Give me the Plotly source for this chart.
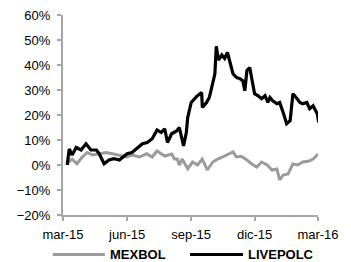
import plotly.graph_objects as go

# LIVEPOLC (black) cumulative return, %
live_dates = ["2015-03-07","2015-03-10","2015-03-14","2015-03-20","2015-03-27","2015-04-03","2015-04-10","2015-04-18",
 "2015-04-22","2015-04-29","2015-05-06","2015-05-13","2015-05-21","2015-05-25","2015-06-01","2015-06-08","2015-06-16",
 "2015-06-23","2015-06-30","2015-07-07","2015-07-14","2015-07-20","2015-07-25","2015-07-29","2015-08-04","2015-08-11",
 "2015-08-15","2015-08-21","2015-08-25","2015-08-27","2015-09-01","2015-09-06","2015-09-10","2015-09-16","2015-09-17",
 "2015-09-23","2015-09-27","2015-09-30","2015-10-05","2015-10-07","2015-10-10","2015-10-15","2015-10-19","2015-10-23",
 "2015-10-26","2015-10-31","2015-11-05","2015-11-10","2015-11-14","2015-11-17","2015-11-20","2015-11-24","2015-11-27",
 "2015-12-01","2015-12-06","2015-12-11","2015-12-16","2015-12-20","2015-12-23","2015-12-27","2016-01-02","2016-01-06",
 "2016-01-11","2016-01-16","2016-01-21","2016-01-25","2016-01-31","2016-02-04","2016-02-08","2016-02-14","2016-02-18",
 "2016-02-23","2016-02-29","2016-03-02"]
live_vals = [0, 6.4, 4, 7, 6, 8.5, 6, 6,
 4.5, 0.5, 2, 2.5, 2, 3, 4.5, 5, 7,
 8.5, 9, 10.5, 14, 13, 14.5, 9, 12.5, 13.6,
 15, 7.6, 13, 19, 25, 26.5, 27.7, 29, 23,
 25, 27, 30.5, 36.5, 47.5, 42, 44, 42.6, 45,
 41.8, 36.5, 35, 34.5, 33.7, 29.7, 37.8, 39, 34.5,
 28.5, 27.7, 26.5, 27.7, 25, 27, 25.7, 24.5, 25,
 21, 16.5, 17.7, 28.5, 26.5, 25, 24.5, 25, 22.5,
 23.7, 20.5, 17]

# MEXBOL (gray) cumulative return, %
mex_dates = ["2015-03-07","2015-03-14","2015-03-21","2015-03-28","2015-04-05","2015-04-12","2015-04-22","2015-05-02",
 "2015-05-11","2015-05-21","2015-05-31","2015-06-08","2015-06-19","2015-06-29","2015-07-07","2015-07-14","2015-07-25",
 "2015-08-04","2015-08-08","2015-08-12","2015-08-15","2015-08-19","2015-08-27","2015-09-03","2015-09-10","2015-09-17",
 "2015-09-24","2015-10-02","2015-10-09","2015-10-16","2015-10-23","2015-10-31","2015-11-05","2015-11-12","2015-11-20",
 "2015-11-27","2015-12-04","2015-12-11","2015-12-19","2015-12-26","2016-01-02","2016-01-06","2016-01-11","2016-01-18",
 "2016-01-25","2016-02-01","2016-02-08","2016-02-16","2016-02-23","2016-03-01"]
mex_vals = [0.5, 2.4, 0.5, 3, 5, 4, 4.5, 5,
 4.5, 4, 3.2, 4, 3.2, 4.5, 3.2, 5.6, 3.6,
 4.4, 2.4, 2.4, 0, 2.4, -1.5, 1.2, 0, 2.4,
 -2, 1.2, 2.4, 3.2, 4, 5.2, 3.2, 3.5, 2,
 0.4, -0.8, 1.2, 0, -2, -1.6, -6, -4, -3.6,
 0.4, 0, 1.2, 1.5, 2.4, 4.4]

tick_vals = ["2015-03-01", "2015-06-01", "2015-09-01", "2015-12-01", "2016-03-01"]
tick_text = ["mar-15", "jun-15", "sep-15", "dic-15", "mar-16"]

series_names = ["MEXBOL", "LIVEPOLC"]
series_colors = ["#9b9b9b", "#000000"]

FONT = "Liberation Sans, Arial, sans-serif"

fig = go.Figure()
fig.add_trace(go.Scatter(x=mex_dates, y=[v / 100 for v in mex_vals], mode="lines", name=series_names[0],
                         line=dict(color=series_colors[0], width=3), showlegend=False))
fig.add_trace(go.Scatter(x=live_dates, y=[v / 100 for v in live_vals], mode="lines", name=series_names[1],
                         line=dict(color=series_colors[1], width=3.2), showlegend=False))

# custom legend (long line samples, bold labels) placed below the axis
legend_y = -0.197
legend_items = [(-0.04, 0.164, 0.19), (0.498, 0.706, 0.73)]
for (x0, x1, xt), name, col in zip(legend_items, series_names, series_colors):
    fig.add_shape(type="line", xref="paper", yref="paper", x0=x0, x1=x1, y0=legend_y, y1=legend_y,
                  line=dict(color=col, width=3))
    fig.add_annotation(xref="paper", yref="paper", x=xt, y=legend_y, text="<b>%s</b>" % name,
                       showarrow=False, xanchor="left", yanchor="middle",
                       font=dict(family=FONT, size=13, color="#000000"), xshift=-3)

axis_color = "#a6a6a6"
fig.update_layout(
    width=351, height=262,
    margin=dict(l=63, r=33, t=15, b=47, autoexpand=False),
    paper_bgcolor="white", plot_bgcolor="white",
    font=dict(family=FONT, size=13, color="#000000"),
    showlegend=False,
    xaxis=dict(type="date", range=["2015-03-01", "2016-03-01"], tickvals=tick_vals, ticktext=tick_text,
               showgrid=False, zeroline=False, showline=True, linecolor=axis_color, linewidth=2,
               ticks="outside", ticklen=4, tickcolor=axis_color, tickwidth=2, tickfont=dict(size=13),
               ticklabelstandoff=2, automargin=False),
    yaxis=dict(range=[-0.2, 0.6], dtick=0.1, tickformat=".0%", showgrid=False, zeroline=False,
               showline=True, linecolor=axis_color, linewidth=2,
               ticks="outside", ticklen=4, tickcolor=axis_color, tickwidth=2, tickfont=dict(size=13),
               ticklabelstandoff=4, automargin=False),
)

fig.write_html("out.html", config={"displayModeBar": False},
               post_script="document.body.style.margin='0px';document.body.style.overflow='hidden';")
